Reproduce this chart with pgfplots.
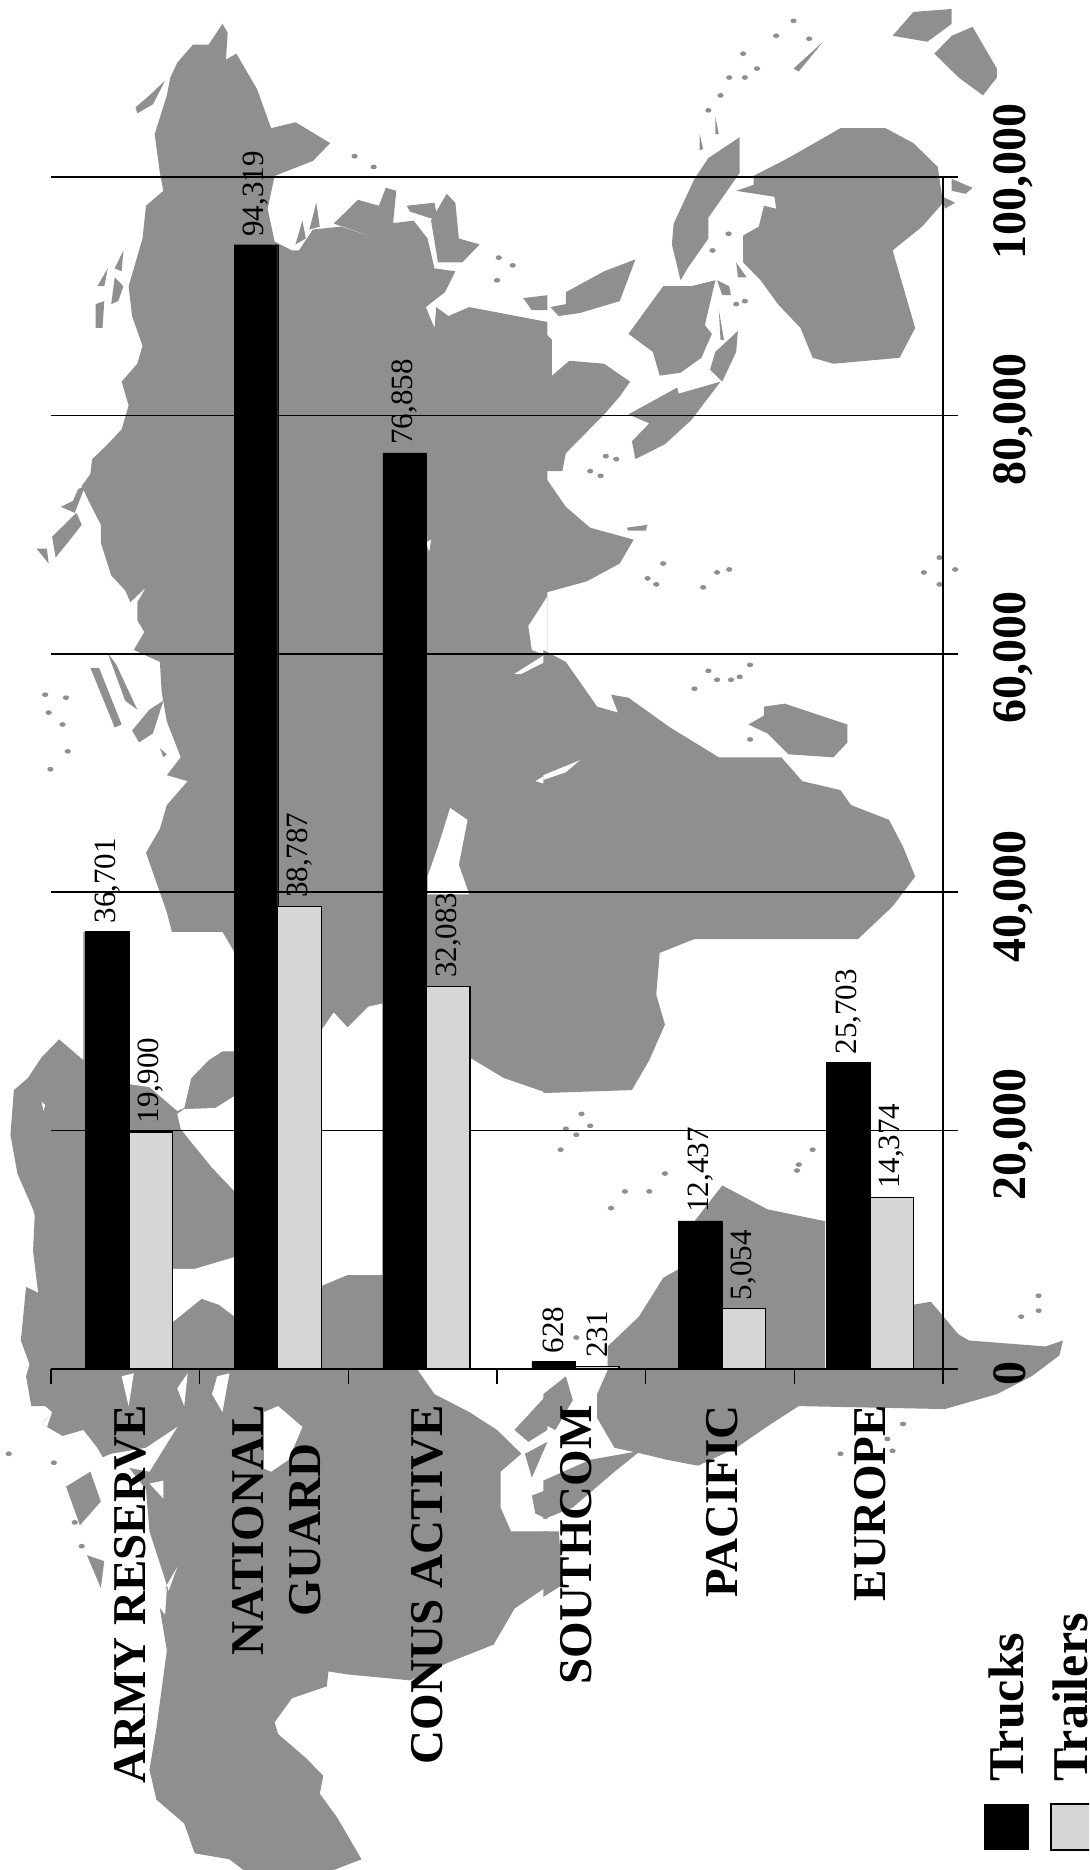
\documentclass[border=0pt]{standalone}
\usepackage{pgfplots}
\pgfplotsset{compat=1.18}
\usepackage{fontspec}
\setmainfont{Liberation Serif}
\definecolor{landc}{gray}{0.56}
\definecolor{trail}{gray}{0.84}
\newcommand\fs[1]{\fontsize{#1}{#1}\selectfont}
\newcommand\Ld[1]{\fill[landc] plot coordinates {#1} -- cycle;}
\newcommand\Wt[1]{\fill[white] plot coordinates {#1} -- cycle;}
\newcommand\Dt[1]{\foreach \p in {#1}{\fill[landc] \p ellipse (9 and 4);}}
\begin{document}
\begin{tikzpicture}
\useasboundingbox (0,0) rectangle (1089pt,-1870pt);
\clip (0,0) rectangle (1089pt,-1870pt);
% ---- background map, top left
\begin{scope}[x=0.3476pt,y=-0.5963pt]
\Ld{(640,40) (600,75) (555,75) (510,105) (490,130) (480,160) (445,225) (460,290) (470,320) (420,345) (410,400) (390,440) (370,480) (380,530) (410,580) (395,610) (350,640) (370,680) (350,720) (310,745) (265,770) (260,795) (235,815) (255,840) (290,880) (290,910) (320,965) (360,990) (375,1010) (420,985) (395,1010) (395,1040) (415,1060) (385,1090) (460,1110) (465,1160) (480,1210) (520,1270) (480,1300) (540,1310) (480,1350) (460,1390) (420,1430) (450,1480) (480,1530) (500,1575) (1575,1575) (1575,540) (1440,525) (1350,515) (1290,530) (1255,515) (1250,550) (1225,515) (1280,490) (1310,455) (1250,450) (1230,400) (1190,370) (1120,375) (1060,395) (980,380) (900,385) (860,420) (840,420) (790,405) (770,350) (790,295) (900,270) (950,240) (850,205) (780,215) (740,150) (680,90) (650,100) (655,55)}
\Ld{(390,180) (430,160) (475,135) (440,175) (395,190)}
\Ld{(280,480) (310,450) (300,480)}
\Ld{(320,510) (330,465) (355,480) (340,505)}
\Ld{(275,510) (300,505) (295,550) (275,550)}
\Ld{(330,450) (355,420) (350,455)}
\Ld{(105,920) (135,920) (140,945)}
\Ld{(150,900) (220,860) (235,880) (195,910) (160,935)}
\Ld{(175,850) (210,840) (225,820) (245,815) (215,860)}
\Ld{(260,1120) (285,1120) (350,1215) (330,1220)}
\Ld{(310,1095) (335,1115) (395,1190) (360,1175)}
\Ld{(380,1225) (430,1190) (470,1175) (440,1230) (400,1245)}
\Ld{(460,1255) (480,1265) (470,1270)}
\Ld{(1505,500) (1575,495) (1575,520) (1530,520)}
\Ld{(850,410) (870,370) (880,400)}
\Ld{(890,385) (910,340) (920,380)}
\Ld{(960,375) (1030,335) (1090,345) (1110,315) (1140,320) (1130,380) (1060,395)}
\Ld{(1170,345) (1250,340) (1260,370) (1180,355)}
\Ld{(1240,370) (1285,325) (1310,340) (1320,400) (1380,410) (1330,440) (1260,440)}
\Dt{(1020,262),(1430,470),(1475,445),(1435,432),(1075,280),(140,1195),(190,1170),(195,1260),(145,1290),(130,1165),(180,1215)}
\Wt{(1230,1500) (1230,1470) (1260,1420) (1295,1355) (1345,1375) (1320,1450) (1350,1500)}
\Wt{(1520,1050) (1575,1000) (1575,1100) (1530,1090)}
\Wt{(1480,1130) (1575,1095) (1575,1108) (1500,1130)}
\Wt{(1540,1310) (1575,1298) (1575,1316)}
\Wt{(1225,910) (1240,905) (1235,925)}
\end{scope}
% ---- top right
\begin{scope}[shift={(545pt,0pt)},x=0.3476pt,y=-0.5963pt]
\Ld{(-5,555) (20,570) (20,630) (70,605) (170,610) (245,640) (215,665) (170,695) (60,760) (50,790) (-5,790)}
\Ld{(-5,795) (60,850) (130,885) (255,905) (215,945) (120,975) (-5,995)}
\Ld{(-5,1090) (60,1110) (150,1185) (210,1195) (190,1165) (240,1170) (360,1220) (500,1270) (680,1270) (740,1310) (850,1325) (880,1350) (990,1375) (1030,1420) (1065,1470) (1000,1520) (900,1575) (-5,1575)}
\Wt{(-5,1300) (100,1275) (60,1295) (-5,1308)}
\Ld{(240,695) (380,650) (385,660) (505,640) (420,705) (345,745) (260,770) (250,740) (300,710)}
\Ld{(240,560) (290,520) (340,480) (420,480) (490,470) (470,520) (460,545) (480,560) (450,600) (390,625) (330,630) (310,590)}
\Ld{(15,515) (60,510) (60,490) (170,455) (260,435) (215,505) (100,525) (40,530)}
\Ld{(370,375) (430,300) (470,265) (560,230) (560,290) (500,340) (470,365) (470,400) (410,450) (390,470) (365,410)}
\Ld{(1000,60) (1060,20) (1170,15) (1170,40) (1100,70)}
\Ld{(1120,90) (1170,60) (1230,45) (1300,115) (1300,130) (1260,160) (1190,130)}
\Ld{(600,295) (700,265) (850,215) (980,215) (1060,240) (1130,280) (1145,340) (1085,380) (1000,420) (1040,500) (1065,550) (1020,600) (830,610) (770,600) (735,550) (670,510) (620,470) (570,440) (570,395) (615,380) (630,345) (665,350) (660,330) (550,320) (600,310)}
\Ld{(630,1185) (690,1180) (870,1215) (870,1245) (830,1270) (700,1265) (640,1230) (585,1215) (630,1200)}
\Ld{(1170,300) (1230,315) (1210,325) (1170,320)}
\Ld{(1145,330) (1180,340) (1150,350)}
\Ld{(715,115) (800,70) (730,120)}
\Ld{(235,885) (295,880) (290,890) (240,890)}
\Ld{(445,225) (455,250) (445,252)}
\Ld{(490,195) (500,225) (490,225)}
\Ld{(475,620) (490,590) (555,555) (550,590) (510,640)}
\Ld{(500,520) (515,570) (505,570)}
\Ld{(550,440) (580,465) (555,465)}
\Ld{(495,470) (530,480) (535,495) (510,495)}
\Dt{(340,945),(295,970),(320,980),(495,960),(455,985),(530,955),(470,1125),(495,1140),(535,1140),(560,1135),(590,1115),(430,1155),(1135,935),(1180,955),(1135,980),(1090,960),(175,765),(130,790),(160,798),(205,770),(570,90),(575,130),(530,130),(505,160),(470,185),(610,115),(665,60),(715,35),(760,65),(482,420),(528,392),(575,505),(550,510),(590,1240)}
\end{scope}
% ---- bottom left
\begin{scope}[shift={(0pt,-935pt)},x=0.3476pt,y=-0.5963pt]
\Ld{(170,175) (240,210) (240,-5) (1575,-5) (1575,265) (1450,240) (1350,205) (1350,728) (1200,728) (1250,770) (1350,800) (1430,830) (1500,870) (1440,900) (1440,960) (1470,1000) (1575,1000) (1575,1095) (1480,1130) (1420,1190) (1290,1220) (1180,1250) (1000,1240) (945,1235) (940,1260) (840,1280) (790,1320) (800,1340) (880,1380) (930,1410) (920,1440) (970,1480) (1040,1550) (960,1568) (700,1568) (660,1550) (560,1540) (530,1490) (450,1450) (430,1400) (450,1330) (480,1200) (460,1130) (480,1090) (430,1000) (420,930) (340,870) (300,880) (280,860) (240,830) (180,840) (120,820) (150,800) (130,790) (90,790) (75,740) (85,720) (60,680) (75,590) (110,600) (95,530) (100,470) (95,460) (50,400) (30,335) (40,260) (80,240) (120,205)}
\Wt{(370,-5) (640,-5) (675,30) (675,195) (640,195) (600,210) (550,240) (530,290) (510,295) (430,255) (370,250)}
\Wt{(510,300) (530,292) (620,290) (675,270) (675,430) (610,390) (540,340) (520,325)}
\Wt{(495,560) (560,560) (675,540) (675,640) (630,620) (580,610) (495,650)}
\Wt{(918,165) (960,130) (1000,155) (1060,120) (1100,115) (1100,570) (1000,570) (918,590)}
\Wt{(760,800) (800,790) (870,825) (830,880) (780,900) (760,895)}
\Wt{(610,770) (625,740) (660,735) (640,800)}
\Wt{(510,760) (540,735) (530,790)}
\Wt{(350,740) (385,735) (370,790)}
\Wt{(280,880) (320,870) (420,860) (510,825) (430,900) (340,890)}
\Wt{(430,920) (470,915) (470,945)}
\Wt{(480,1090) (510,1060) (485,1100)}
\Wt{(450,1120) (480,1095) (475,1140)}
\Wt{(1480,1130) (1568,1095) (1568,1105) (1500,1130)}
\Ld{(1530,940) (1575,930) (1575,980) (1540,970)}
\Ld{(1510,870) (1575,850) (1530,910)}
\Ld{(1480,830) (1575,770) (1575,830) (1520,850)}
\Ld{(190,925) (260,900) (290,950) (230,990)}
\Ld{(250,1040) (300,1050) (290,1095)}
\Dt{(155,885),(215,985),(235,1025),(25,870)}
\Wt{(120,280) (130,285) (125,295)}
\Wt{(120,820) (150,800) (135,825)}
\end{scope}
% ---- bottom right
\begin{scope}[shift={(545pt,-935pt)},x=0.3476pt,y=-0.5963pt]
\Ld{(-5,-5) (480,-5) (330,30) (320,100) (345,150) (300,210) (250,260) (150,262) (-5,265)}
\Ld{(385,560) (340,575) (270,640) (180,690) (180,730) (150,770) (150,810) (200,860) (280,870) (350,880) (440,890) (550,860) (650,820) (730,790) (1150,795) (1300,770) (1400,740) (1480,705) (1490,680) (1440,690) (1220,680) (1190,670) (1110,615) (1060,620) (1057,728) (806,728) (806,480) (640,460) (510,420) (470,450) (430,480) (385,480)}
\Ld{(-5,1000) (40,1000) (50,1090) (-5,1110)}
\Ld{(-5,915) (130,880) (275,865) (200,900) (80,960) (-5,980)}
\Ld{(-5,770) (60,740) (80,780) (30,830) (-5,820)}
\Dt{(60,325),(90,335),(105,300),(130,320),(45,360),(345,400),(300,430),(230,430),(730,385),(770,360),(1030,820),(985,845),(850,870),(1370,640),(1420,605),(1420,630),(90,675),(1000,865),(725,395),(190,458)}
\end{scope}
% ---- chart
\begin{axis}[
  at={(51pt,-1369pt)},anchor=south west,
  scale only axis,width=892pt,height=1192pt,
  xmin=-0.5,xmax=5.5,ymin=0,ymax=100000,
  axis x line=bottom,axis y line=right,
  axis line style={black,line width=1.8pt,-},
  ybar=0pt,bar width=43.6pt,
  ymajorgrids,major grid style={black,line width=1.5pt},
  tick align=outside,tickwidth=15pt,
  major tick style={black,line width=1.6pt},
  xtick={-0.5,0.5,1.5,2.5,3.5,4.5,5.5},xticklabels={},
  extra x ticks={0.03,1.02,2.03,3.03,4.013,5.009},
  extra x tick labels={ARMY RESERVE,{NATIONAL\\GUARD},CONUS ACTIVE,SOUTHCOM,PACIFIC,EUROPE},
  extra x tick style={major tick length=0pt,grid=none,
    x tick label style={yshift=-36pt,rotate=90,anchor=east,align=center,
      font=\fontsize{47}{57}\selectfont\bfseries,inner sep=0pt}},
  ytick={0,20000,40000,60000,80000,100000},
  scaled y ticks=false,
  y tick label style={xshift=35pt,yshift=-4pt,rotate=90,anchor=north,font=\fs{48}\bfseries,inner sep=0pt,
    /pgf/number format/.cd,fixed,precision=0,1000 sep={,},assume math mode=true},
  nodes near coords,
  every node near coord/.append style={rotate=90,anchor=west,font=\fs{31},inner sep=0pt,xshift=8pt,
    /pgf/number format/.cd,fixed,precision=0,1000 sep={,},assume math mode=true},
  clip=false,
]
\addplot[fill=black,draw=black] coordinates {(0.025,36701) (1.025,94319) (2.025,76858) (3.027,628) (4.013,12437) (5.009,25703)};
\addplot[fill=trail,draw=black,line width=1.4pt] coordinates {(0.025,19900) (1.025,38787) (2.025,32083) (3.027,231) (4.013,5054) (5.009,14374)};
\end{axis}
% ---- legend
\fill[black] (984pt,-1804pt) rectangle (1029pt,-1850pt);
\filldraw[fill=trail,draw=black,line width=1.4pt] (1051pt,-1804pt) rectangle (1095pt,-1850pt);
\node[rotate=90,anchor=base west,inner sep=0pt,font=\fs{50}\bfseries] at (1023pt,-1782pt) {Trucks};
\node[rotate=90,anchor=base west,inner sep=0pt,font=\fs{50}\bfseries] at (1087pt,-1782pt) {Trailers};
\end{tikzpicture}
\end{document}
